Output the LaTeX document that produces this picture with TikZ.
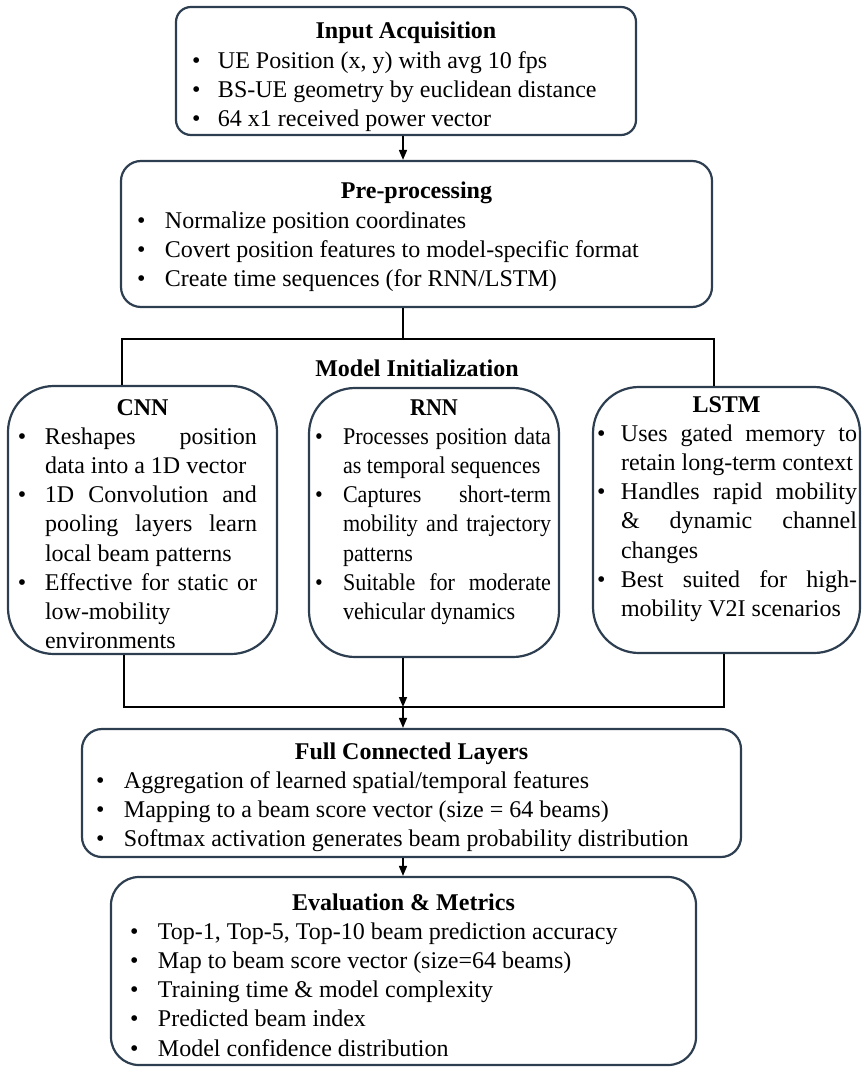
\documentclass[tikz,border=0pt]{standalone}
\usepackage{fontspec}
\setmainfont{Liberation Serif}
\newfontfamily\narrowfont[FakeStretch=0.92]{Liberation Serif}
\usetikzlibrary{arrows.meta}

\definecolor{boxline}{HTML}{2C3E50}
\newlength\bulind
\newlength\txtind
% bold centred heading, #1 = baseline distance from the top of the box
\newcommand{\stagetitle}[2]{\noindent\makebox[\linewidth]{\rule{0pt}{#1}\textbf{#2}}\par}
% one bullet point with hanging indent
\newcommand{\bitem}[1]{\par\noindent\hangindent=\txtind\hangafter=1\makebox[\txtind][l]{\hspace{\bulind}\textbullet}#1}
\tolerance=9999 \hyphenpenalty=10000 \hbadness=10000 \vbadness=10000

\begin{document}
\begin{tikzpicture}[x=0.5pt,y=-0.5pt,
  stage/.style={draw=boxline, line width=1.1pt, inner sep=0pt, font=\fontsize{12}{14.6}\selectfont},
  link/.style={draw=black, line width=0.8pt},
  flow/.style={link, -{Triangle[length=5pt,width=4pt]}}]
\useasboundingbox (0,0) rectangle (862,1068);

% pipeline stages
\node[stage, rounded corners=7.5pt] (inp) at (406,71) {\parbox[c][64pt][t]{230pt}{%
  \setlength\bulind{8pt}\setlength\txtind{21pt}%
  \stagetitle{16pt}{Input Acquisition}
  \bitem{UE Position (x, y) with avg 10 fps}
  \bitem{BS-UE geometry by euclidean distance}
  \bitem{64 x1 received power vector}}};
\node[stage, rounded corners=10pt] (pre) at (416.5,234) {\parbox[c][73pt][t]{295.5pt}{%
  \setlength\bulind{8pt}\setlength\txtind{22pt}%
  \stagetitle{19pt}{Pre-processing}
  \bitem{Normalize position coordinates}
  \bitem{Covert position features to model-specific format}
  \bitem{Create time sequences (for RNN/LSTM)}}};

\node[font=\fontsize{12}{14.6}\selectfont\bfseries] (minit) at (417,368) {Model Initialization};

% the three models
\node[stage, rounded corners=23pt] (cnn) at (142.5,520) {\parbox[c][134pt][t]{134.5pt}{%
  \setlength\bulind{5pt}\setlength\txtind{18.5pt}%
  \stagetitle{14.5pt}{CNN}\rightskip=10pt
  \bitem{Reshapes position\linebreak data into a 1D vector}
  \bitem{1D Convolution and\linebreak pooling layers learn\linebreak local beam patterns}
  \bitem{Effective for static or\linebreak low-mobility\linebreak environments}}};
\node[stage, rounded corners=23pt] (rnn) at (434,522.5) {\parbox[c][134.5pt][t]{125pt}{%
  \narrowfont\setlength\bulind{3pt}\setlength\txtind{17pt}%
  \stagetitle{13.5pt}{RNN}\rightskip=4pt
  \bitem{Processes position data\linebreak as temporal sequences}
  \bitem{Captures short-term\linebreak mobility and trajectory\linebreak patterns}
  \bitem{Suitable for moderate\linebreak vehicular dynamics}}};
\node[stage, rounded corners=23pt] (lstm) at (726.5,520) {\parbox[c][133pt][t]{133.5pt}{%
  \setlength\bulind{2pt}\setlength\txtind{14pt}%
  \stagetitle{12.5pt}{LSTM}\rightskip=1.5pt
  \bitem{Uses gated memory to\linebreak retain long-term context}
  \bitem{Handles rapid mobility\linebreak \& dynamic channel\linebreak changes}
  \bitem{Best suited for high-\linebreak mobility V2I scenarios}}};

\node[stage, rounded corners=10pt] (fc) at (411.5,793) {\parbox[c][64pt][t]{329.5pt}{%
  \setlength\bulind{7pt}\setlength\txtind{21pt}%
  \stagetitle{15pt}{Full Connected Layers}
  \bitem{Aggregation of learned spatial/temporal features}
  \bitem{Mapping to a beam score vector (size = 64 beams)}
  \bitem{Softmax activation generates beam probability distribution}}};
\node[stage, rounded corners=14pt] (ev) at (403.5,971) {\parbox[c][94pt][t]{292.5pt}{%
  \setlength\bulind{9.5pt}\setlength\txtind{23.5pt}%
  \stagetitle{16.5pt}{Evaluation \& Metrics}
  \bitem{Top-1, Top-5, Top-10 beam prediction accuracy}
  \bitem{Map to beam score vector (size=64 beams)}
  \bitem{Training time \& model complexity}
  \bitem{Predicted beam index}
  \bitem{Model confidence distribution}}};

% connectors
\coordinate (split) at (403,339);
\coordinate (merge) at (403,707);
\draw[flow] (inp.south -| merge) -- (pre.north -| merge);
\draw[link] (pre.south -| merge) -- (split);
\draw[link] ([xshift=-10.25pt]cnn.north) |- (split) -| ([xshift=-6.25pt]lstm.north);
\draw[link] ([xshift=-9.25pt]cnn.south) |- (merge) -| ([xshift=-1.25pt]lstm.south);
\draw[flow] (rnn.south -| merge) -- (merge);
\draw[flow] (merge) -- (fc.north -| merge);
\draw[flow] (fc.south -| merge) -- (ev.north -| merge);
\end{tikzpicture}
\end{document}
